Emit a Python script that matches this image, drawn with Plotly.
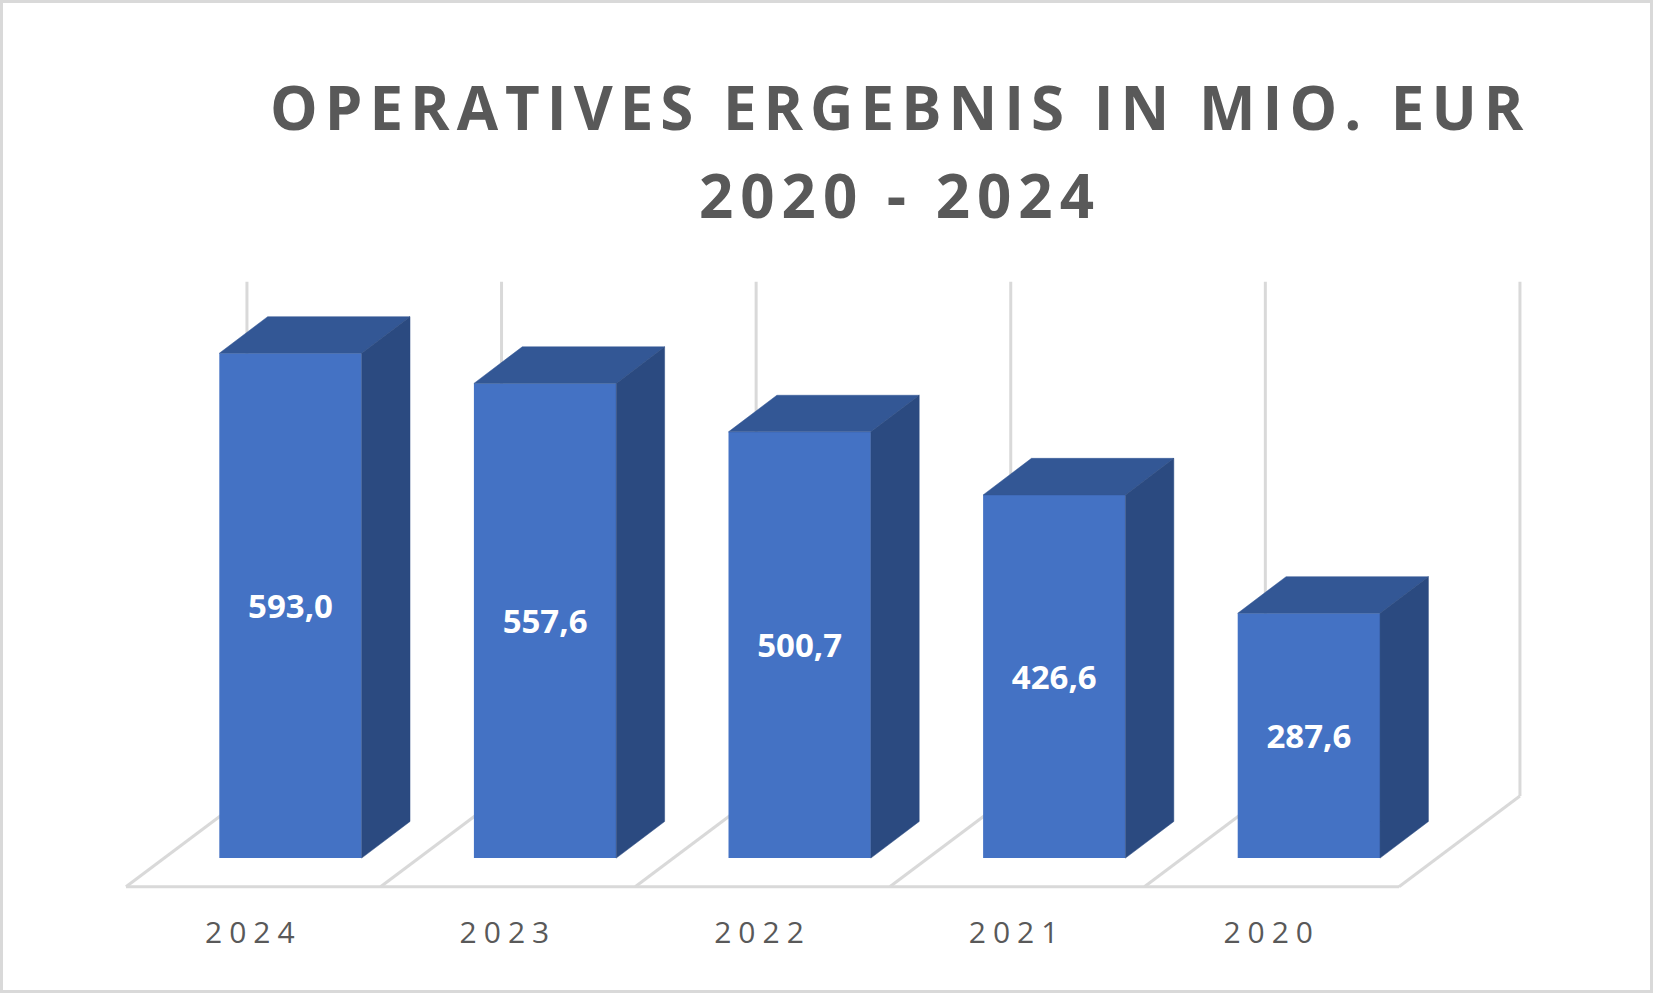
import plotly.graph_objects as go

# ---------------- data ----------------
years = ["2024", "2023", "2022", "2021", "2020"]
values = [593.0, 557.6, 500.7, 426.6, 287.6]
axis_max = 600
title_line1 = "OPERATIVES ERGEBNIS IN MIO. EUR"
title_line2 = "2020 - 2024"

# ---------------- geometry (pixel calibration of the oblique 3D look) ----------------
W, H = 1653, 993
CAT_PX = 254.6          # px per category
X0_PX = 253.3           # px of first category centre on the floor front edge
Y_PX_PER_UNIT = 0.8513  # px per value unit
Y0_PX = 858.1           # px of value 0 on the bar front plane

FRONT_DX = 0.146        # bar front plane offset (category units)
BAR_W = 0.559           # bar width (category units)
DEPTH_DX = 0.190        # bar depth, x (category units)
DEPTH_DY = 43.0         # bar depth, y (value units)
FLOOR_Y = -33.6         # floor front edge (value units)
WALL_DX = 0.475         # floor depth, x (category units)
WALL_DY = 106.5         # floor depth, y (value units)
WALL_EXTRA = 4.0        # grid line overshoot above axis max (value units)
LABEL_Y = -91.0

xr = [(0 - X0_PX) / CAT_PX, (W - X0_PX) / CAT_PX]
yr = [(Y0_PX - H) / Y_PX_PER_UNIT, Y0_PX / Y_PX_PER_UNIT]

FRONT = "#4472C4"
TOP = "#335795"
SIDE = "#2B4A80"
GRID = "#D9D9D9"
TXT = "#595959"

idx = list(range(len(years)))
bar_x = [i + FRONT_DX for i in idx]

fig = go.Figure()

# frame (floor, back-wall gridlines, right wall) as shapes below the traces
shapes = []
n = len(years)
back_floor = FLOOR_Y + WALL_DY
shapes.append(dict(type="line", xref="x", yref="y", x0=-0.5, x1=n - 0.5, y0=FLOOR_Y, y1=FLOOR_Y,
                   line=dict(color=GRID, width=3), layer="below"))
for k in range(n + 1):
    b = k - 0.5
    shapes.append(dict(type="line", xref="x", yref="y", x0=b, x1=b + WALL_DX, y0=FLOOR_Y, y1=back_floor,
                       line=dict(color=GRID, width=3), layer="below"))
    shapes.append(dict(type="line", xref="x", yref="y", x0=b + WALL_DX, x1=b + WALL_DX,
                       y0=back_floor, y1=back_floor + axis_max + WALL_EXTRA,
                       line=dict(color=GRID, width=3), layer="below"))
# outer border
shapes.append(dict(type="rect", xref="paper", yref="paper", x0=0, x1=1, y0=0, y1=1,
                   line=dict(color=GRID, width=6), layer="above"))

# front faces
fig.add_trace(go.Bar(
    x=bar_x, y=values, width=BAR_W,
    marker=dict(color=FRONT, line=dict(width=0)),
    texttemplate="%{y:.1f}", textposition="inside", insidetextanchor="middle",
    textangle=0,
    insidetextfont=dict(family="Open Sans", size=33, color="white", weight="bold"),
    hoverinfo="skip", showlegend=False,
))

# top and side faces
tx, ty, sx, sy = [], [], [], []
for xc, v in zip(bar_x, values):
    l, r = xc - BAR_W / 2, xc + BAR_W / 2
    tx += [l, r, r + DEPTH_DX, l + DEPTH_DX, l, None]
    ty += [v, v, v + DEPTH_DY, v + DEPTH_DY, v, None]
    sx += [r, r, r + DEPTH_DX, r + DEPTH_DX, r, None]
    sy += [0, v, v + DEPTH_DY, DEPTH_DY, 0, None]
fig.add_trace(go.Scatter(x=tx, y=ty, mode="lines", fill="toself", fillcolor=TOP,
                         line=dict(color=TOP, width=0.5), hoverinfo="skip", showlegend=False))
fig.add_trace(go.Scatter(x=sx, y=sy, mode="lines", fill="toself", fillcolor=SIDE,
                         line=dict(color=SIDE, width=0.5), hoverinfo="skip", showlegend=False))

# category labels
fig.add_trace(go.Scatter(
    x=idx, y=[LABEL_Y] * n, mode="text",
    text=[f'<span style="letter-spacing:7px">{y}</span>' for y in years],
    textfont=dict(family="Open Sans", size=30, color=TXT),
    hoverinfo="skip", showlegend=False,
))

title_x = 900 / W
annotations = [
    dict(xref="paper", yref="paper", x=title_x, y=1 - 107 / H, xanchor="center", yanchor="middle",
         text=f'<span style="letter-spacing:7px"><b>{title_line1}</b></span>', showarrow=False,
         font=dict(family="Open Sans", size=60, color=TXT)),
    dict(xref="paper", yref="paper", x=title_x, y=1 - 195 / H, xanchor="center", yanchor="middle",
         text=f'<span style="letter-spacing:7px"><b>{title_line2}</b></span>', showarrow=False,
         font=dict(family="Open Sans", size=60, color=TXT)),
]

fig.update_layout(
    width=W, height=H,
    margin=dict(l=0, r=0, t=0, b=0),
    paper_bgcolor="white", plot_bgcolor="white",
    separators=",.",
    xaxis=dict(range=xr, visible=False, fixedrange=True),
    yaxis=dict(range=yr, visible=False, fixedrange=True),
    shapes=shapes, annotations=annotations,
    showlegend=False,
)

fig.write_html("out.html", config={"displayModeBar": False},
               post_script="document.body.style.margin='0';document.body.style.overflow='hidden';")
